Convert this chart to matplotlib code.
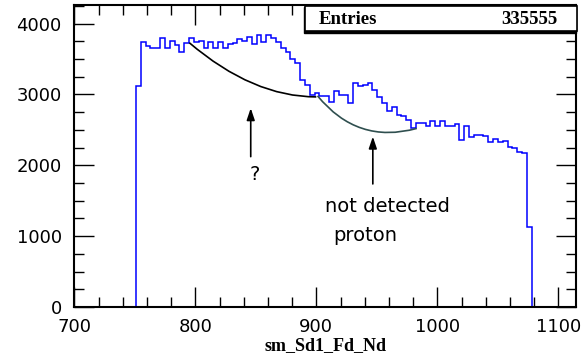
import numpy as np
import matplotlib.pyplot as plt
from matplotlib.path import Path
from matplotlib.patches import PathPatch, Rectangle

# histogram contents (bin by bin)
counts = [3121, 3738, 3690, 3662, 3662, 3800, 3662, 3748, 3700, 3592,
          3726, 3795, 3735, 3748, 3657, 3735, 3657, 3735, 3657, 3710,
          3720, 3780, 3748, 3805, 3710, 3840, 3735, 3840, 3795, 3735,
          3650, 3600, 3500, 3440, 3206, 3135, 2994, 3018, 2980, 2975,
          2900, 3055, 2990, 2990, 2880, 3160, 3120, 3140, 3160, 3065,
          2970, 2880, 2760, 2820, 2712, 2700, 2640, 2526, 2590, 2600,
          2560, 2618, 2560, 2618, 2560, 2550, 2580, 2360, 2550, 2400,
          2430, 2430, 2410, 2335, 2365, 2335, 2345, 2264, 2250, 2193,
          2170, 1130]
edges = np.linspace(751, 1078, len(counts) + 1)
n_entries = 335555

# hand-drawn curves (quadratic bezier control points, data coords)
arc1 = [(795, 3730), (847.5, 2965), (900, 2965)]
arc2 = [(901, 2980), (934, 2290), (983, 2520)]
arrow1 = ((845.8, 2806), (845.8, 2122))
arrow2 = ((946.7, 2405), (946.7, 1737))

W, H = 584, 358
fig = plt.figure(figsize=(W / 100, H / 100), dpi=100)
ax = fig.add_axes([74.3 / W, 1 - 307 / H, (576 - 74.3) / W, (307 - 5.5) / H])

ax.stairs(counts, edges, baseline=0, color='#0000ff', lw=1.1)

for pts, col in [(arc1, 'black'), (arc2, '#2f4f4f')]:
    path = Path(pts, [Path.MOVETO, Path.CURVE3, Path.CURVE3])
    ax.add_patch(PathPatch(path, facecolor='none', edgecolor=col, lw=1.2))

for tip, tail in [arrow1, arrow2]:
    ax.annotate('', xy=tip, xytext=tail,
                arrowprops=dict(arrowstyle='-|>,head_length=0.5,head_width=0.17',
                                color='black', lw=1.2, mutation_scale=14,
                                shrinkA=0, shrinkB=0))

ax.text(849.3, 1864, '?', fontsize=14, ha='center', va='center')
ax.text(907, 1412, 'not detected', fontsize=14, ha='left', va='center')
ax.text(914, 1016, 'proton', fontsize=14, ha='left', va='center')

ax.set_xlim(700, 1114.6)
ax.set_ylim(0, 4255)
ax.set_xticks(np.arange(700, 1101, 100))
ax.set_xticks(np.arange(700, 1111, 20), minor=True)
ax.set_yticks(np.arange(0, 4001, 1000))
ax.set_yticks(np.arange(0, 4251, 250), minor=True)
ax.tick_params(which='both', direction='in', top=True, right=True, width=1)
ax.tick_params(which='major', length=14.5)
ax.tick_params(which='minor', length=7)
ax.tick_params(axis='x', which='major', labelsize=13, pad=8)
ax.tick_params(axis='y', which='major', labelsize=13, pad=9)
for s in ax.spines.values():
    s.set_linewidth(1.5)

ax.set_xlabel('sm_Sd1_Fd_Nd', family='Liberation Serif', fontweight='bold',
              fontsize=13, labelpad=1)

# stats box
x0, x1, y0, y1 = 305 / W, 577 / W, 1 - 31 / H, 1 - 5.5 / H
fig.add_artist(Rectangle((x0 - 1.5 / W, y0 - 1.5 / H), x1 - x0, y1 - y0,
                         transform=fig.transFigure, facecolor='black',
                         edgecolor='black', lw=1, zorder=5))
fig.add_artist(Rectangle((x0, y0), x1 - x0, y1 - y0, transform=fig.transFigure,
                         facecolor='white', edgecolor='black', lw=1.2, zorder=6))
fig.text(319 / W, 1 - 19 / H, 'Entries', family='Liberation Serif',
         fontweight='bold', fontsize=13.5, ha='left', va='center', zorder=7)
fig.text(557 / W, 1 - 19 / H, str(n_entries), family='Liberation Serif',
         fontweight='bold', fontsize=13.5, ha='right', va='center', zorder=7)

plt.savefig('out.png', dpi=100)
